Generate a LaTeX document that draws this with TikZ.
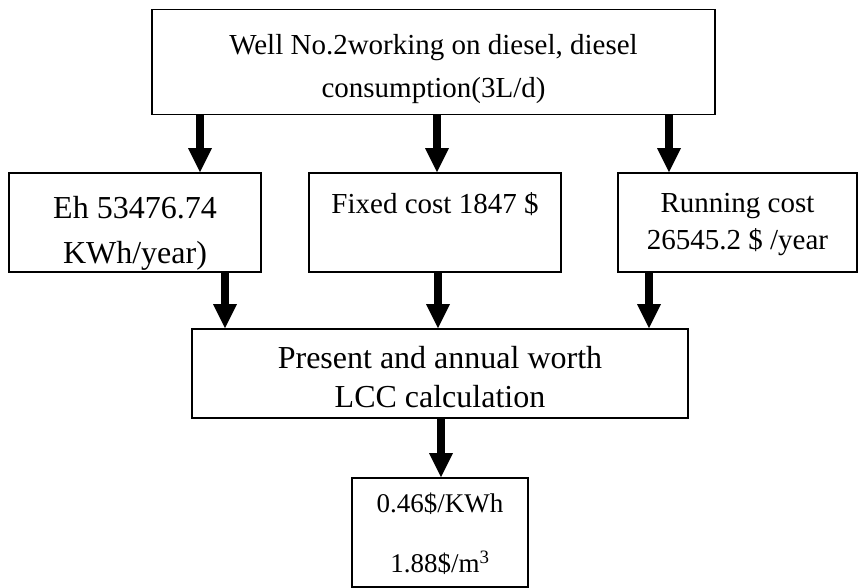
\documentclass[tikz,border=0pt]{standalone}
\usepackage{fontspec}
\setmainfont{Liberation Serif}
\usepackage{tikz}
\usetikzlibrary{arrows.meta,positioning}
\tikzset{
  cbox/.style={rectangle,draw=black,line width=1.8pt,inner sep=0pt,align=center},
  flow/.style={-{Triangle[length=24pt,width=24pt,line width=0pt]},line width=8.3pt,black},
}
\newcommand{\fsz}[2]{\fontsize{#1}{#2}\selectfont}
\newcommand{\topgap}[1]{\rule{0pt}{#1}}

\begin{document}
\begin{tikzpicture}[x=1pt,y=-1pt]
  \useasboundingbox (0,0) rectangle (859,587);

  % boxes
  \node[cbox,minimum width=563pt,minimum height=105pt,font=\fsz{29}{43}] (top) at (433.5,62)
    {\topgap{34pt}Well No.2working on diesel, diesel\\consumption(3L/d)};
  \node[cbox,minimum width=252pt,minimum height=99pt,font=\fsz{32}{45}] (eh) at (135,222.5)
    {\topgap{44pt}Eh 53476.74\\KWh/year)};
  \node[cbox,minimum width=252pt,minimum height=99pt,font=\fsz{29}{40}] (fix) at (435,222.5)
    {Fixed cost 1847 \$\\~};
  \node[cbox,minimum width=239pt,minimum height=99pt,font=\fsz{29}{37}] (run) at (737.5,222.5)
    {\topgap{24pt}Running cost\\26545.2 \$ /year};
  \node[cbox,minimum width=496pt,minimum height=89pt,font=\fsz{32}{39}] (lcc) at (440,373.5)
    {\topgap{30pt}Present and annual worth\\LCC calculation};
  \node[cbox,minimum width=176pt,minimum height=109pt,font=\fsz{27}{60}] (res) at (440,532.5)
    {\topgap{22pt}0.46\$/KWh\\1.88\$/m\textsuperscript{3}};

  % arrows
  \draw[flow] (top.south -| 200,0) -- (eh.north -| 200,0);
  \draw[flow] (top.south -| 437,0) -- (fix.north -| 437,0);
  \draw[flow] (top.south -| 669,0) -- (run.north -| 669,0);
  \draw[flow] (eh.south -| 225,0) -- (lcc.north -| 225,0);
  \draw[flow] (fix.south -| 438,0) -- (lcc.north -| 438,0);
  \draw[flow] (run.south -| 649,0) -- (lcc.north -| 649,0);
  \draw[flow] (lcc.south -| 441,0) -- (res.north -| 441,0);
\end{tikzpicture}
\end{document}
